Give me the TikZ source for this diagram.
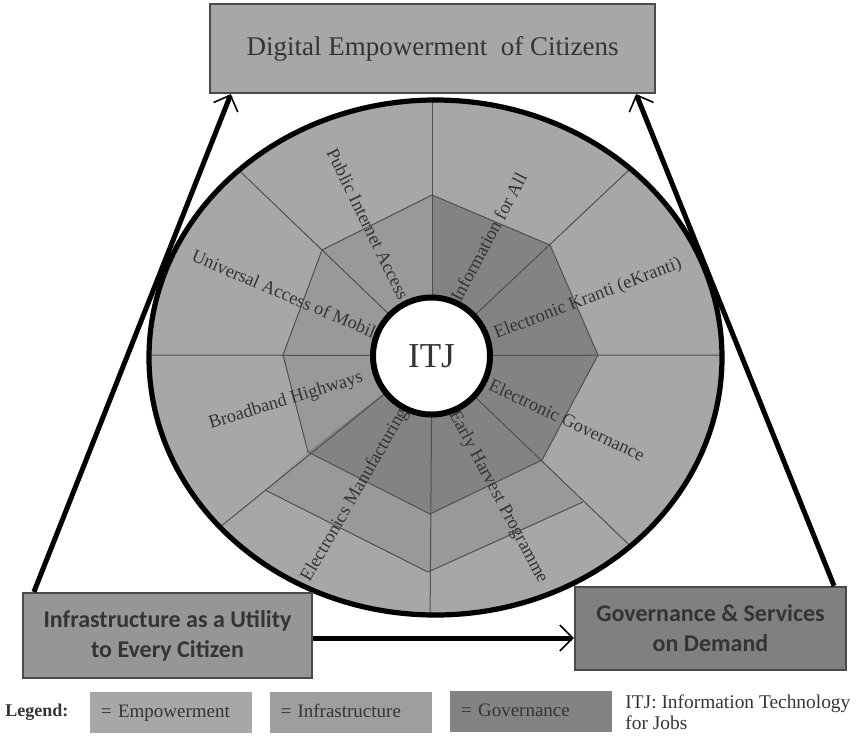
\documentclass[tikz,border=0pt]{standalone}
\usepackage{fontspec}
\setmainfont{Liberation Serif}
\newfontfamily\calib{Carlito}
\usetikzlibrary{arrows.meta,calc}
\definecolor{lightg}{RGB}{167,167,169}
\definecolor{medg}{RGB}{153,153,156}
\definecolor{darkg}{RGB}{131,131,134}
\definecolor{infrab}{RGB}{150,150,152}
\definecolor{govb}{RGB}{128,128,130}
\definecolor{leg2}{RGB}{158,158,160}
\definecolor{boxedge}{RGB}{75,75,75}
\definecolor{spokec}{RGB}{80,80,82}
\definecolor{txt}{RGB}{52,52,54}
\begin{document}
\begin{tikzpicture}[x=0.5pt,y=-0.5pt,
  spoke/.style={draw=spokec, line width=0.5pt, line join=round},
  lbl/.style={font=\fontsize{9.2}{10}\selectfont, text=txt, inner sep=0pt},
  mainbox/.style={draw=boxedge, line width=1.1pt, inner sep=0pt, align=center, text=txt},
  bigarrow/.style={line width=2.5pt, -{Straight Barb[length=6.5pt,width=13pt,line width=0.8pt]}},
  legbox/.style={inner ysep=0pt, inner xsep=5.5pt, text width=70pt, align=left,
    text height=7pt, text depth=2pt,
    minimum height=20.5pt, font=\fontsize{9.5}{10}\selectfont, text=txt}]
\useasboundingbox (0,0) rectangle (858,735);

\coordinate (C) at (432,355.5);
\coordinate (E) at (435.5,357.5);

% base fill
\fill[lightg] (E) ellipse [x radius=286.5, y radius=257.5];
% infrastructure (inner, upper-left)
\fill[medg] (C) -- (432,195) -- (322,250) -- (283,355) -- (308,452) -- cycle;
% governance (inner)
\fill[darkg] (C) -- (308,452) -- (430,514) -- (542,460) -- (598,355) -- (550,245) -- (432,195) -- cycle;
% infrastructure band (lower)
\fill[medg] (308,452) -- (265,490) -- (428,572) -- (583,502) -- (542,460) -- (430,514) -- cycle;

% spokes
\begin{scope}
\clip (E) ellipse [x radius=286.5, y radius=257.5];
\draw[spoke] (C) -- (432,90);
\draw[spoke] (C) -- (223,155);
\draw[spoke] (C) -- (140,355);
\draw[spoke] (C) -- (204,540);
\draw[spoke] (C) -- (430,630);
\draw[spoke] (C) -- (647,562);
\draw[spoke] (C) -- (730,355);
\draw[spoke] (C) -- (647,153);
\end{scope}

% polygon rings
\draw[spoke] (432,195) -- (322,250) -- (283,355) -- (308,452) -- (430,514) -- (542,460) -- (598,355) -- (550,245) -- cycle;
\draw[spoke] (265,490) -- (428,572) -- (583,502);

% labels
\node[lbl, rotate=-64] (l1) at (368,224) {Public Internet Access};
\node[lbl, rotate=62] (l2) at (488.5,237) {Information for All};
\node[lbl, rotate=21] (l3) at (588,299) {Electronic Kranti (eKranti)};
\node[lbl, rotate=-25] (l4) at (567,420) {Electronic Governance};
\node[lbl, rotate=-62] (l5) at (498,497) {Early Harvest Programme};
\node[lbl, rotate=60] (l6) at (355,495) {Electronics Manufacturing};
\node[lbl, rotate=17] (l7) at (286,401) {Broadband Highways};
\node[lbl, rotate=-23, anchor=east] (l8) at (383,335.5) {Universal Access of Mobile};

% outer ring
\draw[line width=2.6pt] (E) ellipse [x radius=286.5, y radius=257.5];

% centre
\node[circle, draw, line width=3pt, fill=white, minimum size=58.5pt, inner sep=0pt,
  font=\fontsize{17.5}{20}\selectfont, text=txt] (itj) at (431.5,356) {ITJ};

% boxes
\node[mainbox, fill=lightg, minimum width=222.5pt, minimum height=44.5pt,
  font=\fontsize{13.5}{16}\selectfont] (dep) at (432.5,48.5) {Digital Empowerment\ \ of Citizens};
\node[mainbox, fill=infrab, minimum width=144.5pt, minimum height=42.5pt,
  font=\calib\bfseries\fontsize{12}{15}\selectfont] (infra) at (167.5,635.5)
  {Infrastructure as a Utility\\to Every Citizen};
\node[mainbox, fill=govb, minimum width=135.5pt, minimum height=41.5pt,
  font=\calib\bfseries\fontsize{12}{15}\selectfont] (gov) at (710.5,628.5)
  {Governance \& Services\\on Demand};

% arrows
\draw[bigarrow] ($(infra.north west)+(12,0)$) -- ($(dep.south west)+(22,0)$);
\draw[bigarrow] ($(gov.north east)+(-13,0)$) -- ($(dep.south east)+(-20,0)$);
\draw[bigarrow] ([yshift=-1.25pt]infra.east) -- ([yshift=-1.25pt]infra.east -| gov.west);

% legend
\node[font=\bfseries\fontsize{9}{10}\selectfont, anchor=west, inner sep=0pt, text=txt] (legt) at (5,712.5) {Legend:};
\node[legbox, fill=lightg] (lg1) at (171,712.5) {= Empowerment};
\node[legbox, fill=leg2] (lg2) at (350.5,712.5) {= Infrastructure};
\node[legbox, fill=darkg] (lg3) at (531,711) {= Governance};
\node[anchor=west, inner sep=0pt, align=left, font=\fontsize{9.7}{10.5}\selectfont, text=txt] (itjleg) at (625,712.5)
  {ITJ: Information Technology\\for Jobs};
\end{tikzpicture}
\end{document}
